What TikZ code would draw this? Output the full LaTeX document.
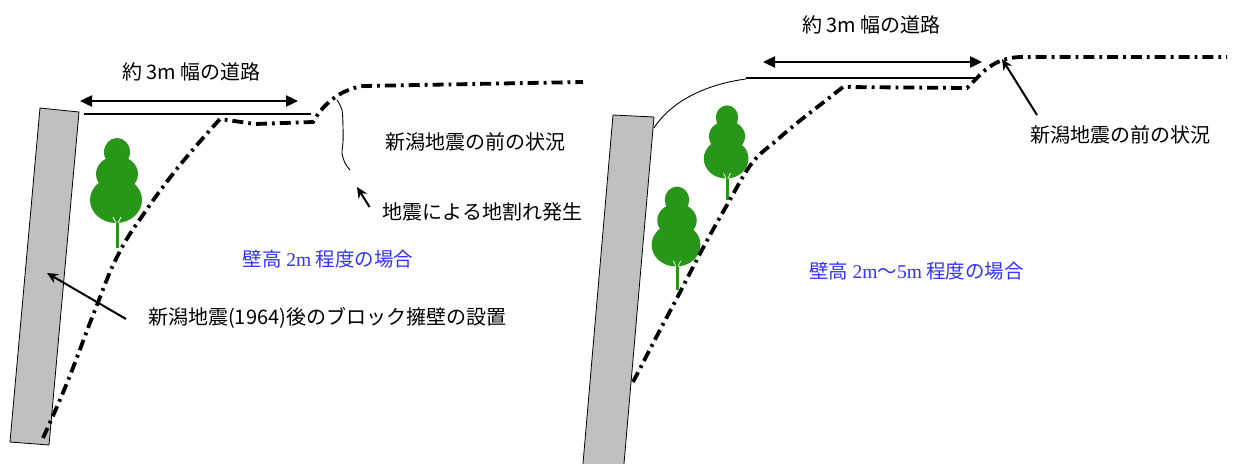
\documentclass[tikz,border=0pt]{standalone}
\usepackage{fontspec}
\newfontfamily\jpfont{Noto Sans CJK JP}
\newfontfamily\numfont{Liberation Serif}
\usepackage[x11names,dvipsnames]{xcolor}
\definecolor{treegreen}{RGB}{40,150,24}
\definecolor{caseblue}{RGB}{50,50,255}
\definecolor{wallgray}{RGB}{192,192,192}
\usepackage{tikz}
\usetikzlibrary{positioning}
\usetikzlibrary{arrows.meta}
\tikzset{wall part/.style={draw=black,line width=0.8pt,fill=wallgray},
ground line/.style={line width=3.8pt,dash pattern=on 11pt off 5pt on 2.8pt off 5pt},
road line/.style={line width=2.6pt},
crack line/.style={line width=0.9pt},
width arrow/.style={line width=2.4pt,{Triangle[length=12pt,width=11pt]}-{Triangle[length=12pt,width=11pt]}},
note arrow/.style={line width=2pt,-{Stealth[length=11pt,width=10pt]}},
main text/.style={font=\jpfont\fontsize{20}{24}\selectfont,inner sep=0pt},
case text/.style={font=\jpfont\fontsize{19.5}{24}\selectfont,inner sep=0pt,text=caseblue},
tree/.pic={
  \fill[treegreen] (0,-96) ellipse [x radius=13,y radius=14];
  \fill[treegreen] (0,-74) ellipse [x radius=21,y radius=18];
  \fill[treegreen] (-1,-48) ellipse [x radius=26,y radius=23];
  \fill[treegreen] (-12,-84) rectangle (12,-60);
  \draw[treegreen,line width=3pt] (0,0) -- (0,-28);
  \draw[white,line width=0.7pt] (-1,-25) -- (-4,-31) (1,-25) -- (4,-31);
}}
\begin{document}
\begin{tikzpicture}[x=1pt,y=-1pt]
	\useasboundingbox (0,0) rectangle (1233,463);
	\fill[white] (0,0) rectangle (1233,463);

	% left: wall height about 2m
	\draw[wall part] (40,108) -- (79,112) -- (49,445) -- (10,442) -- cycle;
	\pic (ta) at (117,248) {tree};
	\draw[ground line] plot[smooth,tension=0.7] coordinates {(43,438) (67,383) (95,310) (118,255) (145,212) (180,165) (220,119)}
	    -- (255,124) -- (313,122) .. controls (322,106) and (338,90) .. (363,86) -- (583,82);
	\draw[road line] (84,114) -- (311,114);
	\draw[crack line] plot[smooth] coordinates {(337,100) (342,110) (343,127) (343,143) (342,153) (345,163) (350,170)};

	\node[main text] (ra) at (191.5,72) {約 3m 幅の道路};
	\node[main text] (pa) at (475.5,142) {新潟地震の前の状況};
	\node[main text] (ka) at (482.5,212) {地震による地割れ発生};
	\node[case text] (ca) at (328,259) {壁高 {\numfont 2m} 程度の場合};
	\node[main text, anchor=west] (wa) at (148,318) {新潟地震(1964)後のブロック擁壁の設置};

	\coordinate (ra1) at (80,101);
	\coordinate (ra2) at (298,101);
	\coordinate (kt) at (357,187);
	\coordinate (wt) at (47,273);
	\path[draw]
	(ra1) edge [width arrow] (ra2)
	([xshift=-13pt,yshift=5pt]ka.west) edge [note arrow] (kt)
	([xshift=-22pt,yshift=-1pt]wa.west) edge [note arrow] (wt);

	% right: wall height 2m to 5m
	\draw[wall part] (613,115) -- (654,117) -- (623,475) -- (582,475) -- cycle;
	\pic[scale=0.86] (tb) at (727,200) {tree};
	\pic[scale=0.94] (tc) at (677,290) {tree};
	\draw[ground line] plot[smooth,tension=0.6] coordinates {(633,382) (660,330) (677,298) (703,248) (727,205) (752,163) (777,140) (797,123) (820,105) (843,87)}
	    -- (967,88) -- (977,78) .. controls (988,66) and (1000,58) .. (1020,57) -- (1227,57);
	\draw[crack line] (654,128) .. controls (672,100) and (708,84) .. (746,79);
	\draw[road line] (746,78) -- (975,78);

	\node[main text] (rb) at (871.5,25) {約 3m 幅の道路};
	\node[main text] (pb) at (1120.5,135) {新潟地震の前の状況};
	\node[case text] (cb) at (916.5,271) {壁高 {\numfont 2m}～{\numfont 5m} 程度の場合};

	\coordinate (rb1) at (763,62);
	\coordinate (rb2) at (982,62);
	\coordinate (pt) at (1002,59);
	\coordinate (ps) at (1037,115);
	\path[draw]
	(rb1) edge [width arrow] (rb2)
	(ps) edge [note arrow] (pt);
\end{tikzpicture}
\end{document}
